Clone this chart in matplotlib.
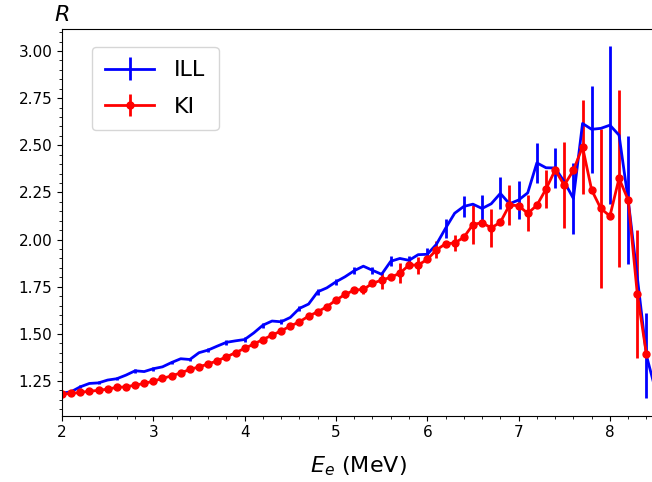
import numpy as np
import matplotlib
matplotlib.use('Agg')
from matplotlib import pyplot as plt
from matplotlib.ticker import AutoMinorLocator

# electron energy grid (MeV)
e_ill = [2.0, 2.1, 2.2, 2.3, 2.4, 2.5, 2.6, 2.7, 2.8, 2.9,
         3.0, 3.1, 3.2, 3.3, 3.4, 3.5, 3.6, 3.7, 3.8, 3.9,
         4.0, 4.1, 4.2, 4.3, 4.4, 4.5, 4.6, 4.7, 4.8, 4.9,
         5.0, 5.1, 5.2, 5.3, 5.4, 5.5, 5.6, 5.7, 5.8, 5.9,
         6.0, 6.1, 6.2, 6.3, 6.4, 6.5, 6.6, 6.7, 6.8, 6.9,
         7.0, 7.1, 7.2, 7.3, 7.4, 7.5, 7.6, 7.7, 7.8, 7.9,
         8.0, 8.1, 8.2, 8.3, 8.4, 8.5]
e_ki = e_ill[:-1]

ill = [1.185, 1.193, 1.219, 1.237, 1.240, 1.255, 1.262, 1.281, 1.304, 1.300,
       1.315, 1.325, 1.348, 1.368, 1.364, 1.400, 1.414, 1.435, 1.455, 1.463,
       1.470, 1.505, 1.546, 1.568, 1.564, 1.587, 1.635, 1.658, 1.723, 1.744,
       1.776, 1.803, 1.835, 1.859, 1.837, 1.816, 1.885, 1.900, 1.890, 1.920,
       1.922, 1.975, 2.060, 2.140, 2.176, 2.188, 2.165, 2.190, 2.245, 2.190,
       2.210, 2.248, 2.407, 2.381, 2.380, 2.307, 2.218, 2.616, 2.585, 2.590,
       2.607, 2.554, 2.210, 1.800, 1.385, 1.200]
# only every second ILL point carries an error bar
ill_err = [0.008, 0, 0.008, 0, 0.008, 0, 0.008, 0, 0.010, 0,
           0.010, 0, 0.010, 0, 0.010, 0, 0.010, 0, 0.012, 0,
           0.012, 0, 0.013, 0, 0.013, 0, 0.015, 0, 0.015, 0,
           0.017, 0, 0.020, 0, 0.020, 0, 0.027, 0, 0.022, 0,
           0.033, 0, 0.050, 0, 0.055, 0, 0.070, 0, 0.085, 0,
           0.100, 0, 0.106, 0, 0.106, 0, 0.190, 0, 0.230, 0,
           0.420, 0, 0.340, 0, 0.225, 0]

ki = [1.180, 1.184, 1.189, 1.196, 1.200, 1.207, 1.216, 1.219, 1.228, 1.237,
      1.249, 1.264, 1.277, 1.293, 1.311, 1.325, 1.340, 1.357, 1.378, 1.400,
      1.423, 1.446, 1.470, 1.493, 1.516, 1.541, 1.564, 1.594, 1.617, 1.644,
      1.679, 1.709, 1.732, 1.736, 1.768, 1.785, 1.800, 1.822, 1.865, 1.865,
      1.895, 1.945, 1.978, 1.982, 2.012, 2.080, 2.090, 2.062, 2.092, 2.183,
      2.180, 2.139, 2.182, 2.268, 2.369, 2.289, 2.367, 2.492, 2.263, 2.165,
      2.125, 2.325, 2.210, 1.711, 1.391]
ki_err = [0, 0.005, 0, 0.005, 0, 0.006, 0, 0.006, 0, 0.007,
          0, 0.007, 0, 0.008, 0, 0.008, 0, 0.009, 0, 0.010,
          0, 0.010, 0, 0.012, 0, 0.013, 0, 0.015, 0, 0.017,
          0, 0.020, 0, 0.025, 0, 0.045, 0, 0.053, 0, 0.045,
          0, 0.045, 0, 0.045, 0, 0.106, 0, 0.100, 0, 0.108,
          0, 0.095, 0, 0.100, 0, 0.230, 0, 0.250, 0, 0.420,
          0, 0.470, 0, 0.340, 0]

fig = plt.figure(figsize=(6.52, 4.82), dpi=100)
ax = fig.add_axes([0.0951, 0.1376, 0.9104, 0.8022])

ax.errorbar(e_ill, ill, yerr=ill_err, errorevery=(0, 2), color='b', lw=2,
            elinewidth=2, capsize=0, label='ILL')
ax.errorbar(e_ki, ki, yerr=ki_err, errorevery=(1, 2), color='r', lw=2,
            elinewidth=2, capsize=0, marker='o', markersize=5, label='KI')

ax.set_xlim(2, 8.5)
ax.set_ylim(1.066, 3.117)
ax.set_yticks([1.25, 1.5, 1.75, 2.0, 2.25, 2.5, 2.75, 3.0])
ax.xaxis.set_minor_locator(AutoMinorLocator(5))
ax.yaxis.set_minor_locator(AutoMinorLocator(5))
ax.tick_params(labelsize=11)
ax.spines['right'].set_visible(False)

ax.set_xlabel('$E_e$ (MeV)', fontsize=16, labelpad=10)
ax.set_ylabel('$R$', fontsize=16, rotation=0, ha='center', va='bottom')
ax.yaxis.set_label_coords(0.0, 1.01)

ax.legend(loc='upper left', bbox_to_anchor=(0.0505, 0.9535), borderaxespad=0,
          fontsize=16, handlelength=2.2, handletextpad=0.9,
          labelspacing=0.75, borderpad=0.6)

plt.savefig('out.png', dpi=100)
plt.close()
